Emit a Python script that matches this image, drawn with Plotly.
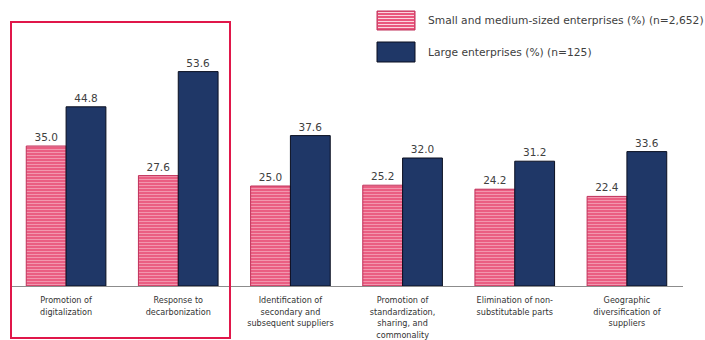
import plotly.graph_objects as go

categories = [
    "Promotion of<br>digitalization",
    "Response to<br>decarbonization",
    "Identification of<br>secondary and<br>subsequent suppliers",
    "Promotion of<br>standardization,<br>sharing, and<br>commonality",
    "Elimination of non-<br>substitutable parts",
    "Geographic<br>diversification of<br>suppliers",
]
sme_values = [35.0, 27.6, 25.0, 25.2, 24.2, 22.4]
large_values = [44.8, 53.6, 37.6, 32.0, 31.2, 33.6]
series_names = [
    "Small and medium-sized enterprises (%) (n=2,652)",
    "Large enterprises (%) (n=125)",
]

PINK = "#e9577d"
NAVY = "#1f3767"
TXT = "#404040"

# plot area in pixels
L, R, T, B = 10, 683, 46, 286
W, H = R - L, B - T


def px(x):
    return (x - L) / W


def py(y):
    return (B - y) / H


fig = go.Figure()
fig.add_trace(go.Bar(
    x=categories, y=sme_values, name=series_names[0],
    marker=dict(color=PINK, line=dict(color="#c0305a", width=1),
                pattern=dict(shape="-", fgcolor="#fbd5df", bgcolor=PINK,
                             size=3, solidity=0.4)),
    texttemplate="%{y:.1f}", textposition="outside",
    textfont=dict(family="DejaVu Sans", size=10.5, color=TXT),
    cliponaxis=False, showlegend=False,
))
fig.add_trace(go.Bar(
    x=categories, y=large_values, name=series_names[1],
    marker=dict(color=NAVY, line=dict(color="#0a0f20", width=1)),
    texttemplate="%{y:.1f}", textposition="outside",
    textfont=dict(family="DejaVu Sans", size=10.5, color=TXT),
    cliponaxis=False, showlegend=False,
))

shapes = []
# red highlight box
shapes.append(dict(type="rect", xref="paper", yref="paper",
                   x0=px(11), x1=px(230), y0=py(338), y1=py(22),
                   line=dict(color="#e0174a", width=2), fillcolor="rgba(0,0,0,0)"))
# legend swatches
shapes.append(dict(type="rect", xref="paper", yref="paper",
                   x0=px(377), x1=px(415), y0=py(30), y1=py(11),
                   line=dict(color="#c0305a", width=1), fillcolor=PINK))
yy = 12.5
while yy < 30:
    shapes.append(dict(type="line", xref="paper", yref="paper",
                       x0=px(378), x1=px(414), y0=py(yy), y1=py(yy),
                       line=dict(color="#fbd5df", width=1)))
    yy += 3
shapes.append(dict(type="rect", xref="paper", yref="paper",
                   x0=px(377), x1=px(415), y0=py(62), y1=py(42),
                   line=dict(color="#0a0f20", width=1), fillcolor=NAVY))

annotations = [
    dict(xref="paper", yref="paper", x=px(426), y=py(21), text=series_names[0],
         showarrow=False, xanchor="left", yanchor="middle",
         font=dict(family="DejaVu Sans", size=10.7, color=TXT)),
    dict(xref="paper", yref="paper", x=px(426), y=py(52), text=series_names[1],
         showarrow=False, xanchor="left", yanchor="middle",
         font=dict(family="DejaVu Sans", size=10.7, color=TXT)),
]

fig.update_layout(
    width=705, height=340,
    margin=dict(l=L, r=705 - R, t=T, b=340 - B, autoexpand=False),
    paper_bgcolor="white", plot_bgcolor="white",
    barmode="group", bargap=0.29, bargroupgap=0,
    shapes=shapes, annotations=annotations,
    xaxis=dict(type="category", showline=True, linecolor="#8c8c8c", linewidth=1,
               ticks="", showgrid=False, ticklabelstandoff=5, automargin=False,
               tickfont=dict(family="DejaVu Sans Condensed, DejaVu Sans",
                             size=9, color="#333333")),
    yaxis=dict(range=[0, 60], visible=False, showgrid=False, automargin=False),
)

fig.write_html("out.html", config={"displayModeBar": False},
               post_script="document.body.style.margin='0';document.body.style.overflow='hidden';")
